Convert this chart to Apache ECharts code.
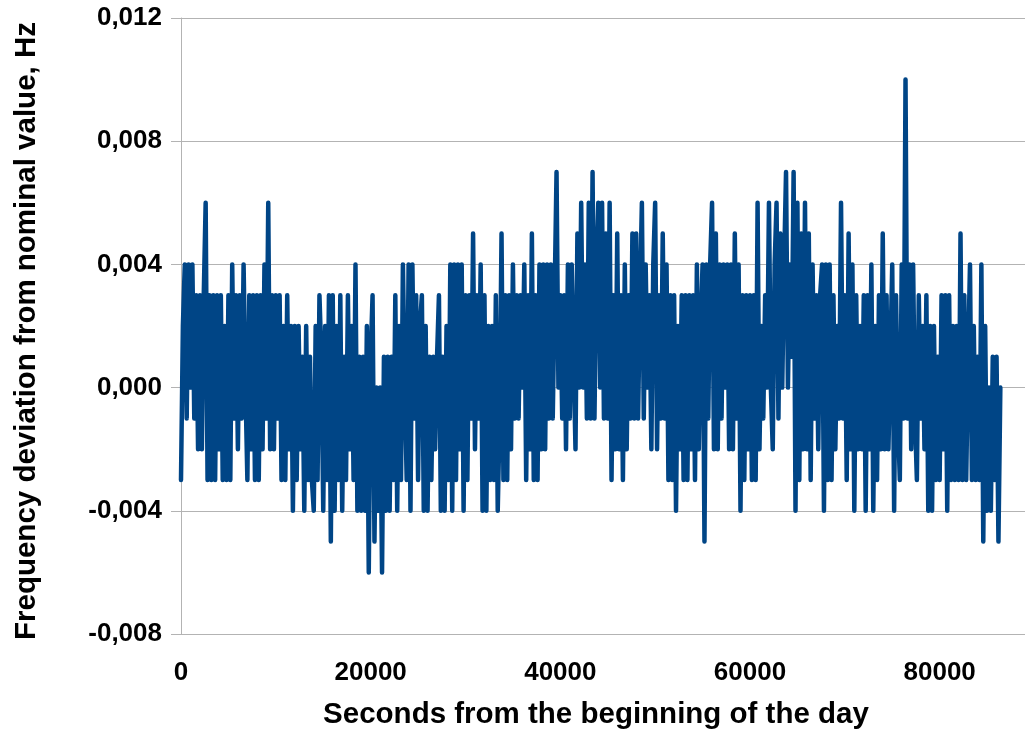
<!DOCTYPE html>
<html><head><meta charset="utf-8">
<script src="https://cdn.jsdelivr.net/npm/echarts@6/dist/echarts.min.js"></script>
<style>html,body{margin:0;padding:0;background:#fff;overflow:hidden}#chart{width:1025px;height:735px}</style>
</head><body><div id="chart"></div>
<script>
const xAxisTitle = 'Seconds from the beginning of the day';
const yAxisTitle = 'Frequency deviation from nominal value, Hz';
const sampleStepSeconds = 200;
const xTickValues = [0, 20000, 40000, 60000, 80000];
const yTickValues = [-0.008, -0.004, 0, 0.004, 0.008, 0.012];
// frequency deviation in mHz, one reading every sampleStepSeconds
const deviationMilliHz = [
 -3, 2, 4, -1, 4, 0, 4, -1, 3, -2,
 3, -2, 3, 6, -3, 3, -3, 3, -3, 3,
 -2, 3, -3, 2, -3, 3, -3, 4, -1, 3,
 -2, 3, -1, 4, 0, -3, 3, -2, 3, -3,
 3, -3, 3, -2, 4, -1, 6, -2, 3, -2,
 3, -1, 3, -3, 2, -3, 3, -2, 2, -4,
 2, -3, 2, -2, 1, -4, 2, -3, 1, -3,
 -4, 2, -3, 3, 1, -4, 2, -3, 3, -5,
 3, -4, 2, -3, 3, -4, 1, -3, 3, -2,
 2, -3, 4, -4, 1, -4, 1, -4, 2, -6,
 1, 3, -5, 0, -4, 0, -6, 1, -4, 1,
 -4, 1, -3, 3, -4, 2, -3, 4, 0, -3,
 4, -4, 4, -1, 3, -3, 2, 3, -4, 2,
 -4, 1, -3, 1, -2, 1, 3, -4, 1, -4,
 2, -3, 4, -4, 4, -3, 4, -2, 4, -4,
 3, -3, 3, -1, 5, -2, 3, -1, 4, -4,
 3, -4, 2, -3, 2, -3, 3, -4, -1, 5,
 -3, 3, -3, 3, -2, 4, -1, 3, -1, 3,
 0, 4, -3, 3, -2, 5, -3, 3, -3, 4,
 -2, 4, -2, 4, -1, 4, -1, 3, 7, 0,
 3, -1, 3, -2, 4, -1, 4, 4, -2, 5,
 0, 6, 0, 4, -1, 6, -1, 7, -1, 4,
 6, 0, 6, -1, 5, -1, 6, -3, 3, -2,
 5, -2, 3, -3, 4, -2, 3, -1, 5, -1,
 5, -1, 3, 6, -1, 4, 0, 3, -2, 4,
 6, -2, 3, -1, 5, -1, 4, -3, 3, -3,
 3, -4, 2, -2, 3, -3, 3, -3, 3, -2,
 3, -3, 4, -2, 2, 4, -5, 4, -1, 4,
 6, -2, 5, -2, 4, -1, 4, 0, 4, -2,
 4, -2, 5, -1, 4, -4, 3, -3, 3, -2,
 3, -3, 3, -3, 6, -2, 2, -1, 3, 0,
 6, 0, -2, 4, 6, -1, 5, 0, 4, 7,
 0, 4, 1, 7, -4, 6, -3, 5, -2, 6,
 -2, 5, -3, 4, -1, 3, -2, 3, 4, -4,
 4, -3, 4, -3, 3, -2, 2, -1, 6, -1,
 3, -3, 5, -2, 4, -4, 3, -2, 2, -2,
 3, -4, 3, -2, 4, -4, 2, -3, 3, -2,
 5, -2, 3, -2, 1, 4, -4, 3, -1, -3,
 4, -1, 10, -1, 4, -2, 4, -1, -3, 3,
 -1, 2, -2, 3, -4, 2, -4, 2, -3, 1,
 -3, 3, -2, 3, -4, 3, -3, 2, -3, 2,
 -3, 5, -3, 3, -3, 1, 4, -3, 2, -3,
 1, -3, 4, -5, 2, -4, 0, -4, 1, -3, 1, -5, 0
];

const seriesData = deviationMilliHz.map((v, i) => [i * sampleStepSeconds, v / 1000]);
const FONT = '"Liberation Sans", Arial, sans-serif';
const GRAY = '#b3b3b3';

const chart = echarts.init(document.getElementById('chart'), null, {renderer: 'canvas'});
chart.setOption({
  animation: false,
  backgroundColor: '#ffffff',
  grid: {left: 181, top: 18, bottom: 99, right: 0, containLabel: false},
  xAxis: {
    type: 'value',
    min: 0, max: 89000, interval: 20000,
    name: xAxisTitle,
    nameLocation: 'middle',
    nameGap: 66,
    nameTextStyle: {fontFamily: FONT, fontWeight: 'bold', fontSize: 29.5, color: '#000', padding: [0, 14, 0, 0]},
    axisLine: {show: true, lineStyle: {color: GRAY, width: 1}},
    axisTick: {show: true, length: 11, lineStyle: {color: GRAY}},
    axisLabel: {
      fontFamily: FONT, fontWeight: 'bold', fontSize: 26, color: '#000', margin: 26,
      showMaxLabel: false,
      formatter: v => xTickValues.includes(v) ? String(v) : ''
    },
    splitLine: {show: false}
  },
  yAxis: {
    type: 'value',
    min: yTickValues[0], max: yTickValues[yTickValues.length - 1], interval: 0.004,
    name: yAxisTitle,
    nameLocation: 'middle',
    nameRotate: 90,
    nameGap: 139,
    nameTextStyle: {fontFamily: FONT, fontWeight: 'bold', fontSize: 29.5, color: '#000', padding: [0, 10, 0, 0]},
    axisLine: {show: true, lineStyle: {color: GRAY, width: 1}},
    axisTick: {show: true, length: 10, lineStyle: {color: GRAY}},
    axisLabel: {
      fontFamily: FONT, fontWeight: 'bold', fontSize: 26, color: '#000', margin: 19,
      formatter: v => v.toFixed(3).replace('.', ',')
    },
    splitLine: {show: true, lineStyle: {color: GRAY, width: 1}}
  },
  series: [{
    type: 'line',
    data: seriesData,
    showSymbol: false,
    symbol: 'none',
    lineStyle: {color: '#004586', width: 4.5, cap: 'round', join: 'round'},
    itemStyle: {color: '#004586'}
  }]
});
</script>
</body></html>
